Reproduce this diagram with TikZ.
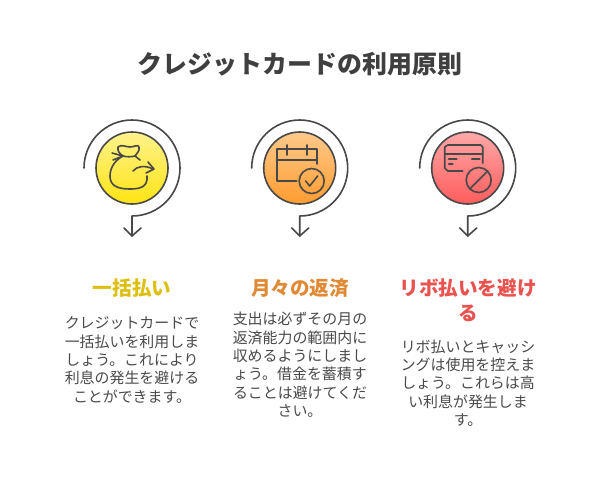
\documentclass[tikz,border=0pt]{standalone}
\usepackage{fontspec}
\setmainfont{Noto Sans CJK JP}
\usetikzlibrary{arrows.meta}
\definecolor{ink}{HTML}{484848}
\definecolor{titleink}{HTML}{3F3F3F}
\definecolor{bodyink}{HTML}{4A4A4A}
\definecolor{yhead}{HTML}{DDBF12}
\definecolor{ohead}{HTML}{E08A36}
\definecolor{rhead}{HTML}{E8524F}
\definecolor{ytop}{HTML}{FFF28C}\definecolor{ybot}{HTML}{FFE414}
\definecolor{otop}{HTML}{FFC98A}\definecolor{obot}{HTML}{FF9C30}
\definecolor{rtop}{HTML}{FFA8A8}\definecolor{rbot}{HTML}{FF5C5C}
\tikzset{
 x=0.75pt,y=-0.75pt,
 ln/.style={draw=ink,line width=1.2pt,line cap=round,line join=round},
 disc/.style={circle,draw=ink,line width=1.2pt,minimum size=54pt,inner sep=0pt,outer sep=0pt},
 titletext/.style={text=titleink,font=\fontsize{18.7pt}{22pt}\selectfont\bfseries},
 headtext/.style={font=\fontsize{14.7pt}{18.4pt}\selectfont\bfseries,align=center,inner sep=0pt},
 bodytext/.style={text=bodyink,font=\fontsize{11.2pt}{13.75pt}\selectfont,align=center,inner sep=0pt},
}
\begin{document}
\begin{tikzpicture}
\useasboundingbox (0,0) rectangle (600,480);
\fill[white] (0,0) rectangle (600,480);
\node[titletext] (title) at (300,64) {クレジットカードの利用原則};

% --- yellow
\node[disc,top color=ytop,bottom color=ybot] (c1) at (132,168) {};
\coordinate (s1) at (84,168);
\coordinate (e1) at (132,236);
\draw[ln] (s1) arc[start angle=180,end angle=450,radius=48] -- (e1);
\draw[ln] (124,228) -- (e1) -- (141,228);
\begin{scope}[shift={(132,168)},ln]
 \draw (-14,-21) .. controls (-11,-24) and (-6,-21) .. (-2,-21) .. controls (2,-21) and (6,-24) .. (7,-21) .. controls (8,-17) and (5,-15) .. (3,-12) .. controls (-1,-11) and (-5,-11) .. (-9,-12) .. controls (-12,-14) and (-15,-17) .. (-14,-21);
 \draw (-9,-12) .. controls (-15,-9) and (-22,-2) .. (-22,8) .. controls (-22,18) and (-14,21) .. (-2,21) .. controls (8,21) and (16,19) .. (15,8);
 \draw (-20,-15) -- (-9,-12) -- (-19,-8);
 \draw (3,-12) -- (8,-8);
 \draw (1,3) .. controls (5,-2) and (13,-3) .. (21,1);
 \draw (16,-6) -- (22,1) -- (14,5);
\end{scope}

% --- orange
\node[disc,top color=otop,bottom color=obot] (c2) at (299.7,168) {};
\coordinate (s2) at (251.7,168);
\coordinate (e2) at (299.7,236);
\draw[ln] (s2) arc[start angle=180,end angle=450,radius=48] -- (e2);
\draw[ln] (291.7,228) -- (e2) -- (308.7,228);
\begin{scope}[shift={(299.7,168)},ln]
 \draw (-3,13) -- (-23,13) -- (-23,-19) -- (17,-19) -- (17,-4);
 \draw (-23,-8) -- (17,-8);
 \draw (-13,-23) -- (-13,-13);
 \draw (7,-23) -- (7,-13);
 \draw (12,13) circle[radius=12.5];
 \draw (6,13) -- (10,18) -- (18,8);
\end{scope}

% --- red
\node[disc,top color=rtop,bottom color=rbot] (c3) at (467.7,168) {};
\coordinate (s3) at (419.7,168);
\coordinate (e3) at (467.7,236);
\draw[ln] (s3) arc[start angle=180,end angle=450,radius=48] -- (e3);
\draw[ln] (459.7,228) -- (e3) -- (476.7,228);
\begin{scope}[shift={(467.7,168)},ln]
 \draw (-5,3) -- (-20,3) -- (-23,0) -- (-23,-21) -- (-20,-23) -- (13,-23) -- (15,-21) -- (15,-5);
 \draw (-23,-14) -- (15,-14);
 \draw (-19,-9) -- (-11,-9);
 \draw (-19,-4) -- (-15,-4);
 \draw (4,-9) -- (12,-9);
 \draw (11,12) circle[radius=12.5];
 \draw (2,21) -- (20,3);
\end{scope}

% --- texts
\node[headtext,text=yhead] (h1) at (132,288) {一括払い};
\node[headtext,text=ohead] (h2) at (300,288) {月々の返済};
\node[headtext,text=rhead] (h3) at (468,300) {リボ払いを避け\\る};
\node[bodytext] (b1) at (132,360) {クレジットカードで\\一括払いを利用しま\\しょう。これにより\\利息の発生を避ける\\ことができます。};
\node[bodytext] (b2) at (300,365) {支出は必ずその月の\\返済能力の範囲内に\\収めるようにしまし\\ょう。借金を蓄積す\\ることは避けてくだ\\さい。};
\node[bodytext] (b3) at (468,383) {リボ払いとキャッシ\\ングは使用を控えま\\しょう。これらは高\\い利息が発生しま\\す。};
\end{tikzpicture}
\end{document}
